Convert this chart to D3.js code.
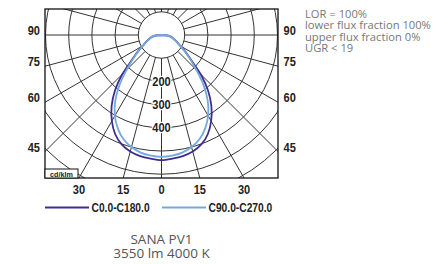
<!DOCTYPE html>
<html>
<head>
<meta charset="utf-8">
<script src="https://cdn.jsdelivr.net/npm/d3@7"></script>
<style>
body { margin: 0; background: #fff; }
</style>
</head>
<body>
<div class="chart"></div>
<script>
// luminous intensity in cd/klm, gamma 0..90 deg (5 deg steps)
var gammas = [0, 5, 10, 15, 20, 25, 30, 35, 40, 45, 50, 55, 60, 65, 70, 75, 80, 85, 90];
var c0c180 = [539, 535, 530, 520, 502, 472, 428, 375, 312, 238, 165, 125, 93, 75, 60, 50, 40, 25, 0];
var c90c270 = [525, 522, 515, 500, 478, 445, 402, 348, 282, 212, 160, 122, 92, 74, 59, 49, 40, 25, 0];

var ringValues = [100, 200, 300, 400, 500, 600, 700, 800];
var ringLabels = [200, 300, 400];
var sideTicks = [90, 75, 60, 45];
var bottomTicks = [-30, -15, 0, 15, 30];
var seriesNames = ['C0.0-C180.0', 'C90.0-C270.0'];
var seriesColors = ['#3d2f8f', '#74a9dc'];
var infoLines = ['LOR = 100%', 'lower flux fraction 100%', 'upper flux fraction 0%', 'UGR < 19'];
var titleLines = ['SANA PV1', '3550 lm 4000 K'];

var W = 442, H = 264;
var box = {x0: 45, y0: 9, x1: 278, y1: 178};
var cx = 161.5, cy = 35;
var boldFont = '"Liberation Sans", Arial, sans-serif';
var lightFont = '"Open Sans", "Noto Sans", sans-serif';

var svg = d3.select('.chart')
  .append('svg')
  .attr('width', W)
  .attr('height', H);

// radius scale
var r = d3.scaleLinear().domain([0, 100]).range([0, 23.2]);
var rad = function(g) { return g * Math.PI / 180; };

// narrow bold text (squeezed sideways to look like a condensed face)
var boldText = function(parent, x, y, str, size, anchor, squeeze) {
  return parent.append('text')
    .attr('transform', 'translate(' + x + ',' + y + ') scale(' + (squeeze || 0.82) + ',1)')
    .attr('text-anchor', anchor || 'start')
    .attr('font-family', boldFont)
    .attr('font-weight', 'bold')
    .attr('font-size', size)
    .attr('fill', '#222')
    .text(str);
};

svg.append('clipPath').attr('id', 'frame')
  .append('rect')
  .attr('x', box.x0).attr('y', box.y0)
  .attr('width', box.x1 - box.x0).attr('height', box.y1 - box.y0);

var grid = svg.append('g').attr('clip-path', 'url(#frame)');

grid.selectAll('circle.ring')
  .data(ringValues)
  .enter()
  .append('circle')
  .attr('class', 'ring')
  .attr('cx', cx).attr('cy', cy)
  .attr('r', function(d) { return r(d); })
  .attr('fill', 'none')
  .attr('stroke', '#333')
  .attr('stroke-width', 1);

// spokes every 15 deg, starting at the 100 ring
grid.selectAll('line.spoke')
  .data(d3.range(0, 360, 15))
  .enter()
  .append('line')
  .attr('class', 'spoke')
  .attr('x1', function(d) { return cx + r(100) * Math.sin(rad(d)); })
  .attr('y1', function(d) { return cy + r(100) * Math.cos(rad(d)); })
  .attr('x2', function(d) { return cx + r(1200) * Math.sin(rad(d)); })
  .attr('y2', function(d) { return cy + r(1200) * Math.cos(rad(d)); })
  .attr('stroke', '#333')
  .attr('stroke-width', 1);

// curves
var curvePoints = function(vals) {
  var pts = [];
  for (var i = gammas.length - 1; i >= 0; i--) pts.push([-gammas[i], vals[i]]);
  for (var j = 1; j < gammas.length; j++) pts.push([gammas[j], vals[j]]);
  return pts;
};

var radial = d3.lineRadial()
  .angle(function(d) { return Math.PI - rad(d[0]); })
  .radius(function(d) { return r(d[1]); })
  .curve(d3.curveCardinal);

var plot = svg.append('g').attr('transform', 'translate(' + cx + ',' + cy + ')');
[c0c180, c90c270].forEach(function(vals, i) {
  plot.append('path')
    .attr('d', radial(curvePoints(vals)))
    .attr('fill', 'none')
    .attr('stroke', seriesColors[i])
    .attr('stroke-width', 1.8);
});

// ring labels
ringLabels.forEach(function(d) {
  boldText(svg, cx, cy + r(d) + 4.5, d, 13, 'middle', 0.85)
    .attr('stroke', '#fff')
    .attr('stroke-width', 2.5)
    .attr('paint-order', 'stroke');
});

// frame
svg.append('rect')
  .attr('x', box.x0).attr('y', box.y0)
  .attr('width', box.x1 - box.x0).attr('height', box.y1 - box.y0)
  .attr('fill', 'none')
  .attr('stroke', '#111')
  .attr('stroke-width', 1.3);

// unit box
svg.append('rect')
  .attr('x', box.x0).attr('y', 169)
  .attr('width', 33).attr('height', box.y1 - 169)
  .attr('fill', '#fff')
  .attr('stroke', '#111')
  .attr('stroke-width', 1);
boldText(svg, box.x0 + 16.5, 176.5, 'cd/klm', 8, 'middle', 0.9);

// side ticks (angle where spoke meets the frame edge)
var sideY = function(a) { return cy + (cx - box.x0) * Math.tan(rad(90 - a)); };
sideTicks.forEach(function(d) {
  boldText(svg, 40, sideY(d), d, 13, 'end', 0.85);
  boldText(svg, 283.5, sideY(d), d, 13, 'start', 0.85);
});

// bottom ticks
bottomTicks.forEach(function(d) {
  var x = cx + (box.y1 - cy) * Math.tan(rad(d));
  boldText(svg, x, 194, Math.abs(d), 13, 'middle', 0.85);
});

// legend
var legendX = [45, 162];
seriesNames.forEach(function(name, i) {
  svg.append('line')
    .attr('x1', legendX[i]).attr('x2', legendX[i] + 44)
    .attr('y1', 207.5).attr('y2', 207.5)
    .attr('stroke', seriesColors[i])
    .attr('stroke-width', 1.8);
  boldText(svg, legendX[i] + 46.5, 211.5, name, 12.5, 'start', 0.82);
});

// info block
svg.selectAll('text.info')
  .data(infoLines)
  .enter()
  .append('text')
  .attr('x', 305)
  .attr('y', function(d, i) { return 18 + i * 11.4; })
  .attr('font-family', lightFont)
  .attr('font-size', 11.2)
  .attr('fill', '#777')
  .text(function(d) { return d; });

// title
svg.selectAll('text.title')
  .data(titleLines)
  .enter()
  .append('text')
  .attr('x', cx)
  .attr('y', function(d, i) { return 243.5 + i * 14; })
  .attr('text-anchor', 'middle')
  .attr('font-family', lightFont)
  .attr('font-size', 13.5)
  .attr('fill', '#555')
  .text(function(d) { return d; });
</script>
</body>
</html>
